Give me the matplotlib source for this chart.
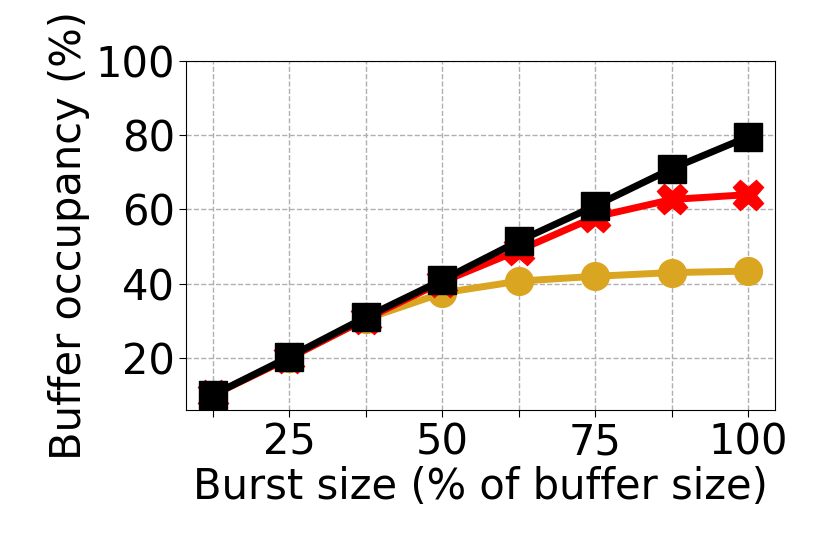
import numpy as np
import matplotlib
matplotlib.use("Agg")
import matplotlib.pyplot as plt

# Data
burst = [12.5, 25, 37.5, 50, 62.5, 75, 87.5, 100]
gold_vals = [10, 20, 30.5, 37.5, 40.7, 42, 43, 43.4]
red_vals = [10, 20, 30.5, 40.5, 49, 58, 62.7, 64]
black_vals = [10, 20.3, 31, 41, 51.5, 61, 71, 79.6]
xtick_labels = ["", "25", "", "50", "", "75", "", "100"]
yticks = [20, 40, 60, 80, 100]

plt.rcParams['font.family'] = ['DejaVu Sans']
plt.rcParams['font.size'] = 30

fig = plt.figure(figsize=(8.3, 5.54), dpi=100)
ax = fig.add_axes([0.224, 0.26, 0.71, 0.63])

ax.plot(burst, gold_vals, color='goldenrod', marker='o', markersize=20, linewidth=5)
ax.plot(burst, red_vals, color='red', marker='X', markersize=22, linewidth=5)
ax.plot(burst, black_vals, color='black', marker='s', markersize=20, linewidth=5)

ax.set_xticks(burst)
ax.set_xticklabels(xtick_labels)
ax.set_yticks(yticks)
ax.set_ylim(6, 100)
ax.tick_params(length=5, pad=3)
ax.grid(True, linestyle='--', color='#b0b0b0', linewidth=1)
ax.set_axisbelow(True)

ax.set_xlabel("Burst size (% of buffer size)", labelpad=2)
ax.set_ylabel("Buffer occupancy (%)", labelpad=4)

fig.savefig("out.png", dpi=100)
